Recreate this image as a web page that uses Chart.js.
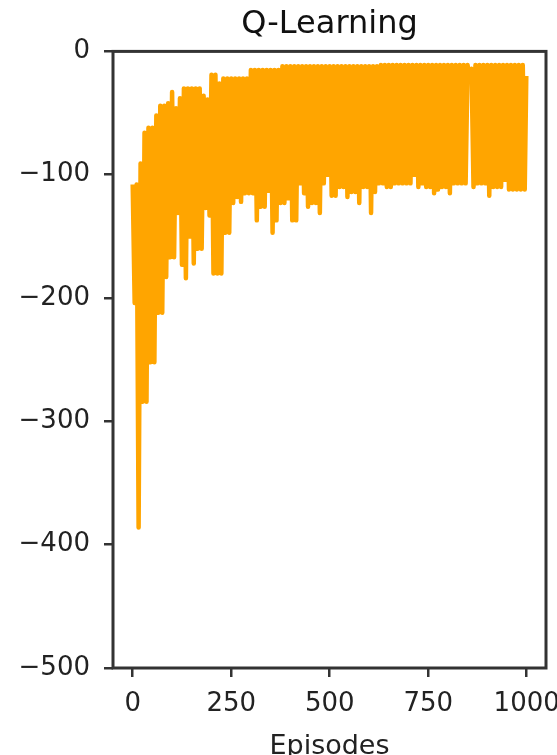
<!DOCTYPE html>
<html>
<head>
<meta charset="utf-8">
<title>Q-Learning</title>
<script src="https://cdn.jsdelivr.net/npm/chart.js@4.4.0/dist/chart.umd.min.js"></script>
<style>
  html, body { margin: 0; padding: 0; background: #fff; }
  canvas { display: block; }
</style>
</head>
<body>
<canvas id="qChart" width="557" height="755"></canvas>
<script>
"use strict";

// episode numbers (every 5th episode)
const episodes = [
  0, 5, 10, 15, 20, 25, 30, 35, 40, 45, 50, 55, 60, 65, 70, 75, 80, 85, 90, 95,
  100, 105, 110, 115, 120, 125, 130, 135, 140, 145, 150, 155, 160, 165, 170, 175, 180, 185, 190, 195,
  200, 205, 210, 215, 220, 225, 230, 235, 240, 245, 250, 255, 260, 265, 270, 275, 280, 285, 290, 295,
  300, 305, 310, 315, 320, 325, 330, 335, 340, 345, 350, 355, 360, 365, 370, 375, 380, 385, 390, 395,
  400, 405, 410, 415, 420, 425, 430, 435, 440, 445, 450, 455, 460, 465, 470, 475, 480, 485, 490, 495,
  500, 505, 510, 515, 520, 525, 530, 535, 540, 545, 550, 555, 560, 565, 570, 575, 580, 585, 590, 595,
  600, 605, 610, 615, 620, 625, 630, 635, 640, 645, 650, 655, 660, 665, 670, 675, 680, 685, 690, 695,
  700, 705, 710, 715, 720, 725, 730, 735, 740, 745, 750, 755, 760, 765, 770, 775, 780, 785, 790, 795,
  800, 805, 810, 815, 820, 825, 830, 835, 840, 845, 850, 855, 860, 865, 870, 875, 880, 885, 890, 895,
  900, 905, 910, 915, 920, 925, 930, 935, 940, 945, 950, 955, 960, 965, 970, 975, 980, 985, 990, 995,
  999
];

// reward per episode, read from the top / bottom of the band
const rewards = [
  -108, -204, -108, -386, -91, -284, -66, -284, -62, -252, -62, -252, -52, -212, -44, -212, -44, -183, -42, -167,
  -33, -167, -46, -131, -38, -173, -30, -184, -30, -150, -30, -172, -30, -160, -30, -160, -36, -127, -39, -133,
  -19, -180, -19, -180, -26, -180, -22, -147, -22, -147, -22, -123, -22, -118, -22, -122, -22, -115, -22, -115,
  -15, -115, -15, -137, -15, -126, -15, -126, -15, -113, -15, -147, -15, -137, -15, -123, -12, -123, -12, -119,
  -12, -137, -12, -137, -12, -107, -12, -115, -12, -126, -12, -123, -12, -123, -12, -131, -12, -107, -12, -100,
  -12, -117, -12, -117, -12, -110, -12, -110, -12, -118, -12, -114, -12, -114, -12, -123, -12, -110, -12, -110,
  -12, -131, -12, -114, -12, -107, -11, -107, -11, -110, -11, -110, -11, -107, -11, -107, -11, -107, -11, -107,
  -11, -107, -11, -100, -11, -110, -11, -107, -11, -110, -11, -110, -11, -115, -11, -112, -11, -110, -11, -110,
  -11, -115, -11, -107, -11, -107, -11, -107, -11, -107, -11, -24, -14, -110, -11, -107, -11, -107, -11, -107,
  -11, -117, -11, -110, -11, -110, -11, -110, -11, -104, -11, -112, -11, -112, -11, -112, -11, -112, -11, -112,
  -20
];

const xTicks = [0, 250, 500, 750, 1000];
const yTicks = [-500, -400, -300, -200, -100, 0];

const points = episodes.map((e, i) => ({ x: e, y: rewards[i] }));

// matplotlib style box round the plot
const frame = {
  id: "frame",
  afterDatasetsDraw(chart) {
    const a = chart.chartArea;
    const c = chart.ctx;
    c.save();
    c.strokeStyle = "#333";
    c.lineWidth = 3;
    c.strokeRect(a.left, a.top, a.right - a.left, a.bottom - a.top);
    c.restore();
  }
};

const minus = v => String(v).replace("-", "\u2212");

new Chart(document.getElementById("qChart"), {
  type: "line",
  data: {
    datasets: [{
      data: points,
      borderColor: "#FFA500",
      borderWidth: 4.5,
      borderJoinStyle: "round",
      pointRadius: 0,
      tension: 0,
      fill: false
    }]
  },
  options: {
    responsive: false,
    animation: false,
    layout: { padding: { left: 0, right: 11, top: 0, bottom: 0 } },
    plugins: {
      legend: { display: false },
      tooltip: { enabled: false },
      title: {
        display: true,
        text: "Q-Learning",
        fullSize: false,
        color: "#111",
        font: { family: "DejaVu Sans", size: 32, weight: "normal" },
        padding: { top: 5, bottom: 8 }
      }
    },
    scales: {
      x: {
        type: "linear",
        min: -50,
        max: 1049,
        afterBuildTicks: s => { s.ticks = xTicks.map(v => ({ value: v })); },
        afterFit: s => { s.height = 87; s.paddingLeft = 0; s.paddingRight = 0; },
        border: { display: false },
        grid: { drawOnChartArea: false, drawTicks: true, tickLength: 9, color: "#333", lineWidth: 2.5 },
        ticks: {
          color: "#222",
          padding: 12,
          maxRotation: 0,
          font: { family: "DejaVu Sans", size: 26 },
          callback: v => minus(v)
        },
        title: {
          display: true,
          text: "Episodes",
          color: "#222",
          font: { family: "DejaVu Sans", size: 27 },
          padding: { top: 0, bottom: -8 }
        }
      },
      y: {
        min: -500,
        max: 0,
        afterBuildTicks: s => { s.ticks = yTicks.map(v => ({ value: v })); },
        afterFit: s => { s.width = 113; s.paddingTop = 0; s.paddingBottom = 0; },
        border: { display: false },
        grid: { drawOnChartArea: false, drawTicks: true, tickLength: 9, color: "#333", lineWidth: 2.5 },
        ticks: {
          color: "#222",
          padding: 14,
          font: { family: "DejaVu Sans", size: 26 },
          callback: v => minus(v)
        }
      }
    }
  },
  plugins: [frame]
});
</script>
</body>
</html>
